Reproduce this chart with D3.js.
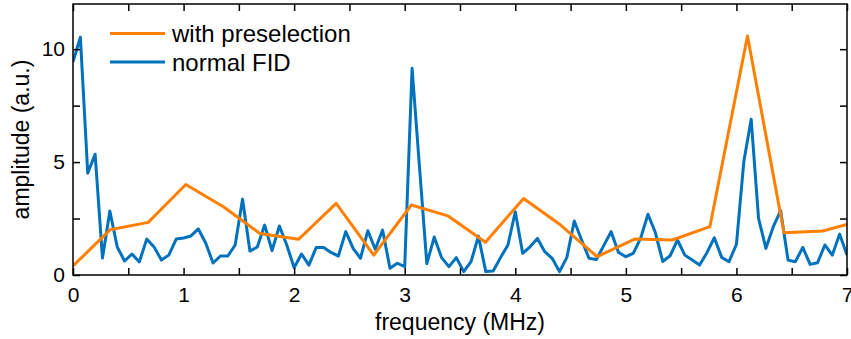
<!DOCTYPE html>
<html>
<head>
<meta charset="utf-8">
<script src="https://cdn.jsdelivr.net/npm/d3@7"></script>
<style>
  html, body { margin: 0; padding: 0; background: #fff; }
  svg { display: block; font-family: "Liberation Sans", Arial, sans-serif; }
</style>
</head>
<body>
<svg id="chart" width="851" height="339"></svg>
<script>
// Spectrum of the normal FID, sampled every 1/15 MHz from 0 to 7 MHz
const fidAmplitude = [
  9.44, 10.53, 4.51, 5.35, 0.75, 2.83, 1.24, 0.62, 0.93, 0.58,
  1.59, 1.24, 0.66, 0.88, 1.59, 1.64, 1.73, 2.04, 1.42, 0.53,
  0.84, 0.84, 1.33, 3.36, 1.06, 1.24, 2.21, 1.08, 2.17, 1.33,
  0.32, 0.93, 0.44, 1.22, 1.22, 1.00, 0.84, 1.92, 1.18, 0.74,
  1.96, 1.14, 1.99, 0.30, 0.52, 0.37, 9.15, 4.80, 0.50, 1.68,
  0.77, 0.37, 0.77, 0.15, 0.59, 1.72, 0.15, 0.18, 0.77, 1.33,
  2.80, 0.96, 1.25, 1.62, 1.03, 0.74, 0.15, 0.78, 2.39, 1.55,
  0.74, 0.69, 1.30, 1.92, 1.00, 0.81, 0.96, 1.62, 2.69, 1.88,
  0.60, 0.85, 1.55, 0.88, 0.66, 0.44, 0.99, 1.65, 0.78, 0.59,
  1.36, 5.01, 6.90, 2.51, 1.18, 2.14, 2.85, 0.66, 0.59, 1.22,
  0.47, 0.54, 1.33, 0.88, 1.81, 0.88
];
const fidStep = 1 / 15;

// Spectrum with preselection (coarser frequency grid)
const preselFreq = [
  0, 0.335, 0.68, 1.02, 1.36, 1.69, 2.04, 2.38, 2.72, 3.06, 3.39,
  3.73, 4.075, 4.41, 4.74, 5.08, 5.42, 5.76, 6.10, 6.43, 6.78, 7.0
];
const preselAmplitude = [
  0.40, 2.00, 2.33, 4.01, 3.02, 1.84, 1.58, 3.17, 0.88, 3.10, 2.62,
  1.45, 3.39, 2.21, 0.81, 1.59, 1.55, 2.14, 10.58, 1.87, 1.95, 2.24
];

// Axis ticks
const xTicks = d3.range(0, 7.01, 0.5);
const xLabelled = [0, 1, 2, 3, 4, 5, 6, 7];
const yTicks = [0, 2.5, 5, 7.5, 10];
const yLabelled = [0, 5, 10];

const seriesNames = ["with preselection", "normal FID"];
const seriesColors = ["#ff8000", "#0072bd"];

const W = 851, H = 339;
const margin = { left: 73, right: 4, top: 4, bottom: 64 };
const iw = W - margin.left - margin.right;
const ih = H - margin.top - margin.bottom;

const svg = d3.select("#chart");
const g = svg.append("g").attr("transform", `translate(${margin.left},${margin.top})`);

const x = d3.scaleLinear().domain([0, 7]).range([0, iw]);
const y = d3.scaleLinear().domain([0, 12]).range([ih, 0]);

const fidData = fidAmplitude.map((v, i) => ({ f: i * fidStep, a: v }));
const preselData = preselFreq.map((f, i) => ({ f, a: preselAmplitude[i] }));

const line = d3.line().x(d => x(d.f)).y(d => y(d.a));

g.append("clipPath").attr("id", "plotclip")
  .append("rect").attr("width", iw).attr("height", ih);

const lines = g.append("g").attr("clip-path", "url(#plotclip)");
lines.append("path").datum(fidData)
  .attr("d", line).attr("fill", "none")
  .attr("stroke", seriesColors[1]).attr("stroke-width", 3)
  .attr("stroke-linejoin", "round");
lines.append("path").datum(preselData)
  .attr("d", line).attr("fill", "none")
  .attr("stroke", seriesColors[0]).attr("stroke-width", 3)
  .attr("stroke-linejoin", "round");

// Axes: ticks point inward, mirrored on top and right
const tickLen = 7;
const fmtX = d => xLabelled.includes(d) ? d3.format("d")(d) : "";
const fmtY = d => yLabelled.includes(d) ? d3.format("d")(d) : "";

const styleAxis = sel => {
  sel.select(".domain").remove();
  sel.selectAll(".tick line").attr("stroke", "#000").attr("stroke-width", 1.5);
  sel.selectAll(".tick text").attr("fill", "#000").style("font-size", "21px");
};

g.append("g").attr("transform", `translate(0,${ih})`)
  .call(d3.axisBottom(x).tickValues(xTicks).tickFormat(fmtX)
        .tickSizeInner(-tickLen).tickSizeOuter(0).tickPadding(12))
  .call(styleAxis);
g.append("g")
  .call(d3.axisTop(x).tickValues(xTicks).tickFormat("")
        .tickSizeInner(-tickLen).tickSizeOuter(0))
  .call(styleAxis);
g.append("g")
  .call(d3.axisLeft(y).tickValues(yTicks).tickFormat(fmtY)
        .tickSizeInner(-tickLen).tickSizeOuter(0).tickPadding(8))
  .call(styleAxis);
g.append("g").attr("transform", `translate(${iw},0)`)
  .call(d3.axisRight(y).tickValues(yTicks).tickFormat("")
        .tickSizeInner(-tickLen).tickSizeOuter(0))
  .call(styleAxis);

// Frame
g.append("rect").attr("width", iw).attr("height", ih)
  .attr("fill", "none").attr("stroke", "#000").attr("stroke-width", 1.5);

// Axis titles
svg.append("text")
  .attr("x", margin.left + iw / 2).attr("y", 330)
  .attr("text-anchor", "middle").style("font-size", "23px")
  .text("frequency (MHz)");
svg.append("text")
  .attr("transform", `translate(29,${margin.top + ih / 2}) rotate(-90)`)
  .attr("text-anchor", "middle").style("font-size", "23px")
  .text("amplitude (a.u.)");

// Legend
const legend = svg.append("g");
seriesNames.forEach((name, i) => {
  const ly = 33.5 + i * 28.5;
  legend.append("line")
    .attr("x1", 110).attr("x2", 165).attr("y1", ly).attr("y2", ly)
    .attr("stroke", seriesColors[i]).attr("stroke-width", 3);
  legend.append("text")
    .attr("x", 172).attr("y", ly + 8.5)
    .style("font-size", "24px")
    .text(name);
});
</script>
</body>
</html>
